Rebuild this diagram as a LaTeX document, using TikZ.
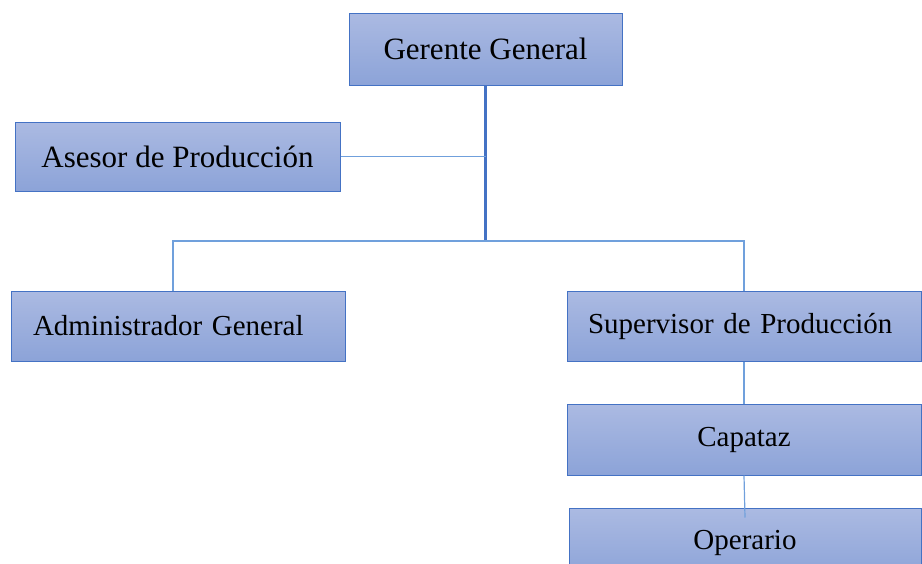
\documentclass[tikz,border=0pt]{standalone}
\usepackage{fontspec}
\setmainfont{Liberation Serif}
\usetikzlibrary{positioning,calc}

\definecolor{boxtop}{RGB}{171,186,226}
\definecolor{boxbot}{RGB}{140,163,216}
\definecolor{boxline}{RGB}{68,114,196}
\definecolor{linklight}{RGB}{112,160,220}

\begin{document}
\begin{tikzpicture}[
    x=0.5pt, y=-0.5pt,
    box/.style={rectangle, draw=boxline, line width=0.5pt, top color=boxtop, bottom color=boxbot, align=center, inner sep=0pt},
    bigtext/.style={font=\fontsize{15.5}{18}\selectfont},
    smalltext/.style={font=\fontsize{14.5}{17}\selectfont},
    trunk/.style={draw=boxline, line width=1.25pt},
    link/.style={draw=linklight, line width=0.6pt}
]

% Frame of the picture
\clip (0,0) rectangle (922,563);

% Top level
\node[box, bigtext, minimum width=136.5pt, minimum height=36pt] (gerente) at (485.5,49) {Gerente General};

% Staff
\node[box, bigtext, minimum width=162.5pt, minimum height=34.5pt] (asesor) at (177.5,156.5) {Asesor de Producción};

% Second level
\node[box, smalltext, minimum width=167pt, minimum height=35pt, text width=145pt, align=left] (admin) at (178,326) {Administrador General};
\node[box, smalltext, minimum width=177pt, minimum height=35pt, text width=156pt, align=left] (superv) at (744,326) {Supervisor de Producción};

% Line below the supervisor
\node[box, smalltext, minimum width=177pt, minimum height=35.5pt] (capataz) at (744,439.5) {Capataz};
\node[box, smalltext, minimum width=176pt, minimum height=35pt] (operario) at (745,543) {Operario};

% Connectors
\coordinate (hub) at (485.5,241);
\draw[trunk] (gerente.south) -- (hub);
\draw[link] (asesor.east) -- (asesor.east -| hub);
\draw[link] ([xshift=-2.5pt]admin.north) |- (hub) -| (superv.north);
\draw[link] (superv.south) -- (capataz.north);
\draw[link] (capataz.south) -- ([yshift=-5pt]operario.north);

\end{tikzpicture}
\end{document}
